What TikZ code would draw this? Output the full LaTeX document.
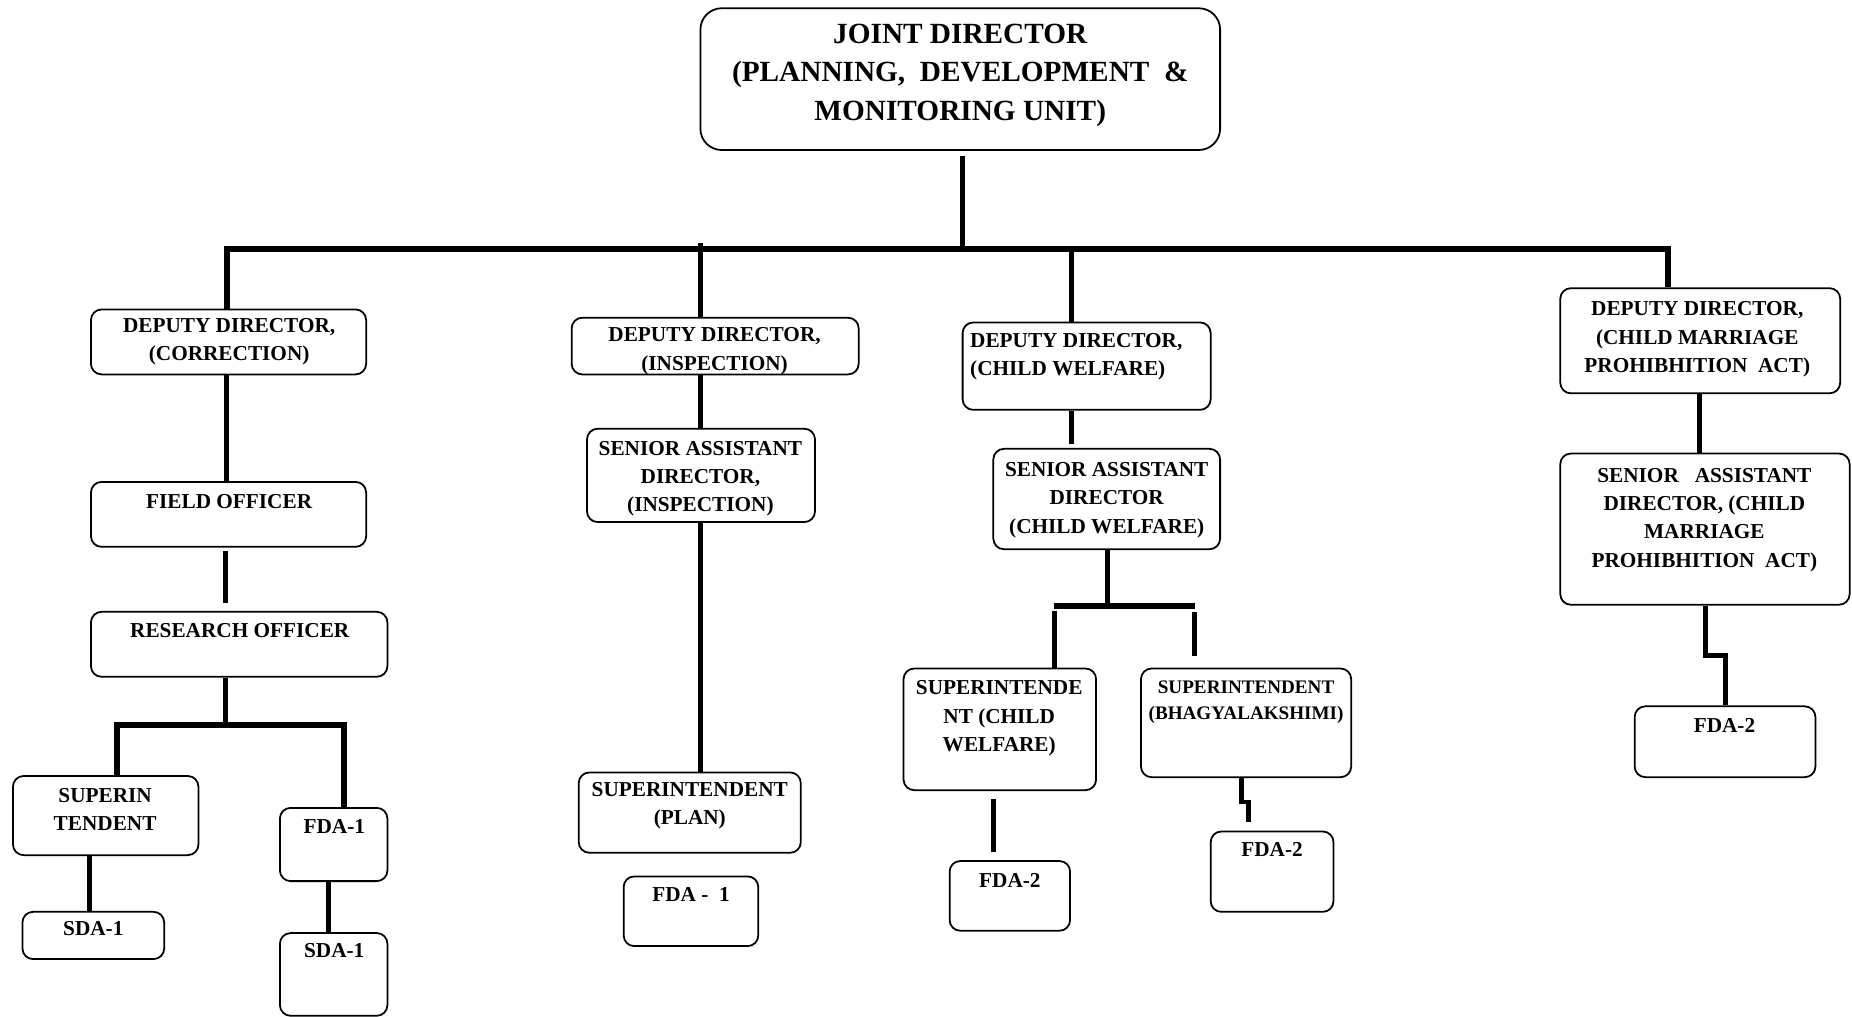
\documentclass[tikz,border=0pt]{standalone}
\usepackage{fontspec}
\setmainfont{Liberation Serif}
\usetikzlibrary{calc}
\tikzset{
  box/.style={draw, rounded corners=4.5pt, line width=0.75pt, inner sep=0pt},
  txt/.style={inner sep=0pt, anchor=north, align=center, font=\bfseries\fontsize{9}{12}\selectfont},
  conn/.style={line width=2.1pt, line join=miter},
  bus/.style={line width=2.6pt, line join=miter},
}
\newcommand\orgbox[9][]{%
  \node[box, minimum width={(#5-#3)*0.5pt}, minimum height={(#6-#4)*0.5pt}] (#2) at ({(#3+#5)/2},{(#4+#6)/2}) {};
  \node[txt,#1] (#2-t) at (#7,#8) {#9};
}
\begin{document}
\begin{tikzpicture}[x=0.5pt,y=-0.5pt]
\useasboundingbox (0,0) rectangle (1568,861);

% top box
\node[box, rounded corners=9pt, minimum width={440*0.5pt}, minimum height={120*0.5pt}] (jd) at (813,67) {};
\node[txt, font=\bfseries\fontsize{12.4}{16.5}\selectfont] (jd-t) at (813,19.6) {JOINT DIRECTOR\\(PLANNING,\ \ DEVELOPMENT\ \ \&\\MONITORING UNIT)};

% left column
\orgbox{ddc}{77}{262}{310}{317}{194}{269}{DEPUTY DIRECTOR,\\(CORRECTION)}
\orgbox{fo}{77}{408}{310}{463}{194}{418}{FIELD OFFICER}
\orgbox{ro}{77}{518}{328}{573}{203}{527}{RESEARCH OFFICER}
\orgbox{supa}{11}{657}{168}{724}{89}{667}{SUPERIN\\TENDENT}
\orgbox{sdaa}{19}{772}{139}{812}{79}{780}{SDA-1}
\orgbox{fdaa}{237}{684}{328}{746}{283}{693}{FDA-1}
\orgbox{sdab}{237}{790}{328}{860}{283}{798}{SDA-1}

% column 2
\orgbox{ddi}{484}{269}{727}{317}{605}{277}{DEPUTY DIRECTOR,\\(INSPECTION)}
\orgbox{sadi}{497}{363}{690}{442}{593}{373}{SENIOR ASSISTANT\\DIRECTOR,\\(INSPECTION)}
\orgbox{supp}{490}{654}{678}{722}{584}{662}{SUPERINTENDENT\\(PLAN)}
\orgbox{fdab}{528}{742}{642}{801}{585}{751}{FDA -\ \ 1}

% column 3
\orgbox[anchor=north west, align=left]{ddcw}{815}{273}{1025}{347}{821}{282}{DEPUTY DIRECTOR,\\(CHILD WELFARE)}
\orgbox{sadcw}{841}{380}{1033}{465}{937}{391}{SENIOR ASSISTANT\\DIRECTOR\\(CHILD WELFARE)}
\orgbox{supcw}{765}{566}{928}{669}{846}{576}{SUPERINTENDE\\NT (CHILD\\WELFARE)}
\orgbox[font=\bfseries\fontsize{8.1}{11}\selectfont]{supb}{966}{566}{1144}{658}{1055}{576}{SUPERINTENDENT\\(BHAGYALAKSHIMI)}
\orgbox{fdac}{804}{729}{906}{788}{855}{739}{FDA-2}
\orgbox{fdad}{1025}{704}{1129}{772}{1077}{713}{FDA-2}

% column 4
\orgbox{ddcm}{1321}{244}{1558}{333}{1437}{255}{DEPUTY DIRECTOR,\\(CHILD MARRIAGE\\PROHIBHITION\ \ ACT)}
\orgbox{sadcm}{1321}{384}{1566}{512}{1443}{396}{SENIOR\ \ \ ASSISTANT\\DIRECTOR, (CHILD\\MARRIAGE\\PROHIBHITION\ \ ACT)}
\orgbox{fdae}{1384}{598}{1537}{658}{1460}{608}{FDA-2}

% main bus
\coordinate (bj) at (815,211);
\coordinate (b1) at (192,211);
\coordinate (b2) at (593,211);
\coordinate (b3) at (907,211);
\coordinate (b4) at (1412,211);
\draw[conn] ($(jd.south -| bj)+(0,4)$) -- (bj);
\draw[bus] (ddc.north -| b1) -- (b1) -- (b4) -- (ddcm.north -| b4);
\draw[conn] ($(b2)+(0,-5)$) -- (ddi.north -| b2);
\draw[conn] (b3) -- (ddcw.north -| b3);

% left column connectors
\draw[conn] (ddc.south -| 192,0) -- (fo.north -| 192,0);
\draw[conn] ($(fo.south -| 191,0)+(0,3)$) -- ($(ro.north -| 191,0)+(0,-7)$);
\coordinate (r0) at (191,614);
\coordinate (r1) at (99,614);
\coordinate (r2) at (291,614);
\draw[conn] (ro.south -| r0) -- (r0);
\draw[bus] (supa.north -| r1) -- (r1) -- (r2) -- (fdaa.north -| r2);
\draw[conn] (supa.south -| 76,0) -- (sdaa.north -| 76,0);
\draw[conn] (fdaa.south -| 278,0) -- (sdab.north -| 278,0);

% column 2 connectors
\draw[conn] (ddi.south -| 593,0) -- (sadi.north -| 593,0);
\draw[conn] (sadi.south -| 593,0) -- (supp.north -| 593,0);

% column 3 connectors
\draw[conn] (ddcw.south -| 907,0) -- ($(sadcw.north -| 907,0)+(0,-3)$);
\coordinate (c0) at (938,513);
\coordinate (c1) at (893,513);
\coordinate (c2) at (1011,513);
\draw[conn] (sadcw.south -| c0) -- (c0);
\draw[bus] ($(c1)+(-1,0)$) -- ($(c2)+(1,0)$);
\draw[conn] ($(c1)+(0,4)$) -- (supcw.north -| c1);
\draw[conn] ($(c2)+(0,5)$) -- ($(supb.north -| c2)+(0,-10)$);
\draw[conn] ($(supcw.south -| 841,0)+(0,7)$) -- ($(fdac.north -| 841,0)+(0,-7)$);
\draw[conn] (supb.south -| 1051,0) -- (1051,679) -- (1057,679) -- ($(fdad.north -| 1057,0)+(0,-7)$);

% column 4 connectors
\draw[conn] (ddcm.south -| 1439,0) -- (sadcm.north -| 1439,0);
\draw[conn] (sadcm.south -| 1444,0) -- (1444,555) -- (1461,555) -- (fdae.north -| 1461,0);
\end{tikzpicture}
\end{document}
